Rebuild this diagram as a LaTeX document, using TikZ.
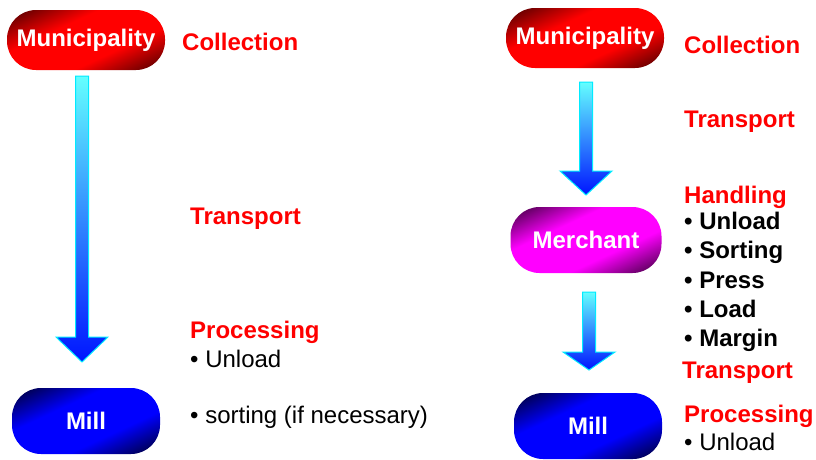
\documentclass[tikz,border=0pt]{standalone}
\usepackage{fontspec}
\setmainfont{Liberation Sans}
\usetikzlibrary{calc}
\definecolor{townLight}{RGB}{255,0,0}
\definecolor{townDark}{RGB}{115,0,0}
\definecolor{traderLight}{RGB}{255,0,255}
\definecolor{traderDark}{RGB}{105,0,105}
\definecolor{millLight}{RGB}{0,0,255}
\definecolor{millDark}{RGB}{0,0,95}
\definecolor{pipeTop}{RGB}{100,255,255}
\definecolor{pipeBot}{RGB}{0,20,255}
\definecolor{pipeEdge}{RGB}{0,235,255}
\pgfdeclarehorizontalshading{townshade}{100bp}{color(0bp)=(townDark); color(22bp)=(townDark); color(38bp)=(townLight); color(62bp)=(townLight); color(78bp)=(townDark); color(100bp)=(townDark)}
\pgfdeclarehorizontalshading{tradershade}{100bp}{color(0bp)=(traderDark); color(22bp)=(traderDark); color(38bp)=(traderLight); color(62bp)=(traderLight); color(78bp)=(traderDark); color(100bp)=(traderDark)}
\pgfdeclarehorizontalshading{millshade}{100bp}{color(0bp)=(millDark); color(22bp)=(millDark); color(38bp)=(millLight); color(62bp)=(millLight); color(78bp)=(millDark); color(100bp)=(millDark)}
\tikzstyle{pill}=[shade, shading angle=-65, rounded corners=29pt, text=white, font=\bfseries, inner sep=0pt]
\tikzstyle{town}=[pill, shading=townshade, minimum width=158pt, minimum height=60pt]
\tikzstyle{trader}=[pill, shading=tradershade, minimum width=151pt, minimum height=66pt]
\tikzstyle{plant}=[pill, shading=millshade, minimum width=148pt, minimum height=66pt]
\tikzstyle{stage}=[text=red, font=\bfseries, anchor=base west, inner sep=0pt]
\tikzstyle{bullet}=[text=black, anchor=base west, inner sep=0pt]
\tikzstyle{boldbullet}=[bullet, font=\bfseries]
\tikzstyle{pipe}=[top color=pipeTop, bottom color=pipeBot, draw=pipeEdge, line width=1pt]
% block arrow from coordinate #1 down to tip #2, head length #3
\newcommand\blockarrow[3]{%
  \path[pipe] ($(#1)+(-6.5,0)$) -- ($(#1)+(6.5,0)$) -- ($(#2)+(6.5,-#3)$)
    -- ($(#2)+(26,-#3)$) -- (#2) -- ($(#2)+(-26,-#3)$) -- ($(#2)+(-6.5,-#3)$) -- cycle;}

\begin{document}
\fontsize{24}{29}\selectfont
\begin{tikzpicture}[x=1pt, y=-1pt]
    \useasboundingbox (0,0) rectangle (816,459);
    % left chain
    \node [style=town] (mun1) at (86,40) {Municipality};
    \node [style=plant] (mill1) at (86,421) {Mill};
    \coordinate (a1s) at (82,76);
    \coordinate (a1e) at (82,362);
    \blockarrow{a1s}{a1e}{25}
    \node [style=stage] (col1) at (182,50) {Collection};
    \node [style=stage] (tra1) at (190,224) {Transport};
    \node [style=stage] (pro1) at (190,338) {Processing};
    \node [style=bullet] (unl1) at (190,367) {• Unload};
    \node [style=bullet] (sor1) at (190,423) {• sorting (if necessary)};
    % right chain
    \node [style=town] (mun2) at (585,38) {Municipality};
    \node [style=trader] (mer2) at (586,240) {Merchant};
    \node [style=plant] (mill2) at (588,426) {Mill};
    \coordinate (a2s) at (586,82);
    \coordinate (a2e) at (586,195);
    \blockarrow{a2s}{a2e}{24}
    \coordinate (a3s) at (589,292);
    \coordinate (a3e) at (589,370);
    \blockarrow{a3s}{a3e}{18}
    \node [style=stage] (col2) at (684,53) {Collection};
    \node [style=stage] (tra2) at (684,127) {Transport};
    \node [style=stage] (han2) at (684,203) {Handling};
    \node [style=boldbullet] (unl2) at (684,229) {• Unload};
    \node [style=boldbullet] (sor2) at (684,258) {• Sorting};
    \node [style=boldbullet] (pre2) at (684,288) {• Press};
    \node [style=boldbullet] (loa2) at (684,317) {• Load};
    \node [style=boldbullet] (mar2) at (684,346) {• Margin};
    \node [style=stage] (tra3) at (682,378) {Transport};
    \node [style=stage] (pro2) at (684,422) {Processing};
    \node [style=bullet] (unl3) at (684,450) {• Unload};
\end{tikzpicture}
\end{document}
